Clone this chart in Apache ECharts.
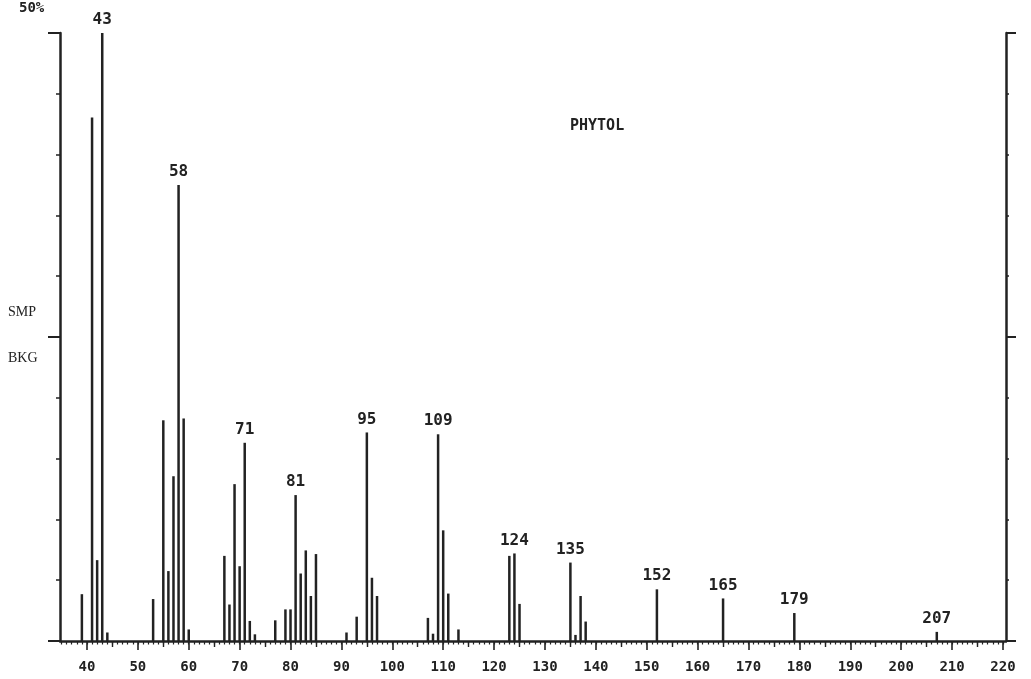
<!DOCTYPE html>
<html>
<head>
<meta charset="utf-8">
<script src="https://cdn.jsdelivr.net/npm/echarts@6/dist/echarts.min.js"></script>
<style>
html,body{margin:0;padding:0;background:#fff;}
#c{width:1031px;height:679px;}
</style>
</head>
<body>
<div id="c"></div>
<script>
// m/z values of peaks
const mz = [39, 41, 42, 43, 44, 53, 55, 56, 57, 58, 59, 60, 67, 68, 69, 70, 71, 72, 73, 77, 79, 80, 81, 82, 83, 84, 85, 91, 93, 95, 96, 97, 107, 108, 109, 110, 111, 113, 123, 124, 125, 135, 136, 137, 138, 152, 165, 179, 207];
// relative intensity (% of full scale)
const intensity = [7.7, 86.1, 13.3, 100, 1.4, 6.9, 36.3, 11.5, 27.1, 75.0, 36.6, 1.9, 14.0, 6.0, 25.8, 12.3, 32.6, 3.3, 1.1, 3.4, 5.2, 5.2, 24.0, 11.1, 14.9, 7.4, 14.3, 1.4, 4.0, 34.3, 10.4, 7.4, 3.8, 1.2, 34.0, 18.2, 7.8, 1.9, 14.0, 14.4, 6.1, 12.9, 1.0, 7.4, 3.2, 8.5, 7.0, 4.6, 1.5];
// peaks that carry a printed m/z label
const labeledPeaks = [43, 58, 71, 81, 95, 109, 124, 135, 152, 165, 179, 207];
// x axis tick labels
const xLabels = [40, 50, 60, 70, 80, 90, 100, 110, 120, 130, 140, 150, 160, 170, 180, 190, 200, 210, 220];
const xMid = [45, 55, 65, 75, 85, 95, 105, 115, 125, 135, 145, 155, 165, 175, 185, 195, 205, 215];
const xUnit = [];
for (let v = 35; v <= 220; v++) xUnit.push(v);
const title = 'PHYTOL';

const ink = '#222';
const mono = '"DejaVu Sans Mono", monospace';
const xMin = 34.7, xMax = 220.6;

const data = mz.map((m, i) => {
  const item = { value: [m, intensity[i]] };
  if (labeledPeaks.indexOf(m) >= 0) {
    item.label = { show: true, formatter: String(m) };
  }
  return item;
});

const chart = echarts.init(document.getElementById('c'), null, { renderer: 'canvas' });

const baseX = {
  type: 'value', min: xMin, max: xMax, position: 'bottom',
  splitLine: { show: false }
};

chart.setOption({
  backgroundColor: '#fff',
  animation: false,
  grid: { left: 60, right: 25, top: 33, bottom: 38 },
  xAxis: [
    Object.assign({}, baseX, {
      axisLine: { show: true, lineStyle: { color: ink, width: 2.5 } },
      axisTick: { show: true, customValues: xLabels, length: 9, lineStyle: { color: ink, width: 1.6 } },
      axisLabel: { show: true, customValues: xLabels, margin: 19, color: ink, fontFamily: mono, fontWeight: 'bold', fontSize: 14 }
    }),
    Object.assign({}, baseX, {
      axisLine: { show: false },
      axisTick: { show: true, customValues: xMid, length: 6, lineStyle: { color: ink, width: 1.4 } },
      axisLabel: { show: false }
    }),
    Object.assign({}, baseX, {
      axisLine: { show: false },
      axisTick: { show: true, customValues: xUnit, length: 3.5, lineStyle: { color: ink, width: 1.2 } },
      axisLabel: { show: false }
    })
  ],
  yAxis: [
    {
      type: 'value', min: 0, max: 100, interval: 10, position: 'left',
      axisLine: { show: true, lineStyle: { color: ink, width: 2.5 } },
      axisTick: { show: true, length: 4, lineStyle: { color: ink, width: 1.5 } },
      axisLabel: { show: false }, splitLine: { show: false }
    },
    {
      type: 'value', min: 0, max: 100, interval: 50, position: 'left',
      axisLine: { show: false },
      axisTick: { show: true, length: 12, lineStyle: { color: ink, width: 2 } },
      axisLabel: { show: false }, splitLine: { show: false }
    },
    {
      type: 'value', min: 0, max: 100, interval: 10, position: 'right',
      axisLine: { show: true, lineStyle: { color: ink, width: 2.5 } },
      axisTick: { show: true, length: 3, lineStyle: { color: ink, width: 1.5 } },
      axisLabel: { show: false }, splitLine: { show: false }
    },
    {
      type: 'value', min: 0, max: 100, interval: 50, position: 'right',
      axisLine: { show: false },
      axisTick: { show: true, length: 10, lineStyle: { color: ink, width: 2 } },
      axisLabel: { show: false }, splitLine: { show: false }
    }
  ],
  graphic: [
    { type: 'text', left: 19, top: 1, style: { text: '50%', fill: ink, font: 'bold 14px ' + mono } },
    { type: 'text', left: 8, top: 305, style: { text: 'SMP', fill: ink, font: '14px "Liberation Serif", serif' } },
    { type: 'text', left: 8, top: 351, style: { text: 'BKG', fill: ink, font: '14px "Liberation Serif", serif' } },
    { type: 'text', left: 570, top: 119, style: { text: title, fill: ink, font: 'bold 15px ' + mono } }
  ],
  series: [{
    type: 'bar',
    xAxisIndex: 0, yAxisIndex: 0,
    barWidth: 2.5,
    itemStyle: { color: ink },
    label: { show: false, position: 'top', distance: 5, color: ink, fontFamily: mono, fontWeight: 'bold', fontSize: 16 },
    data: data
  }]
});
</script>
</body>
</html>
